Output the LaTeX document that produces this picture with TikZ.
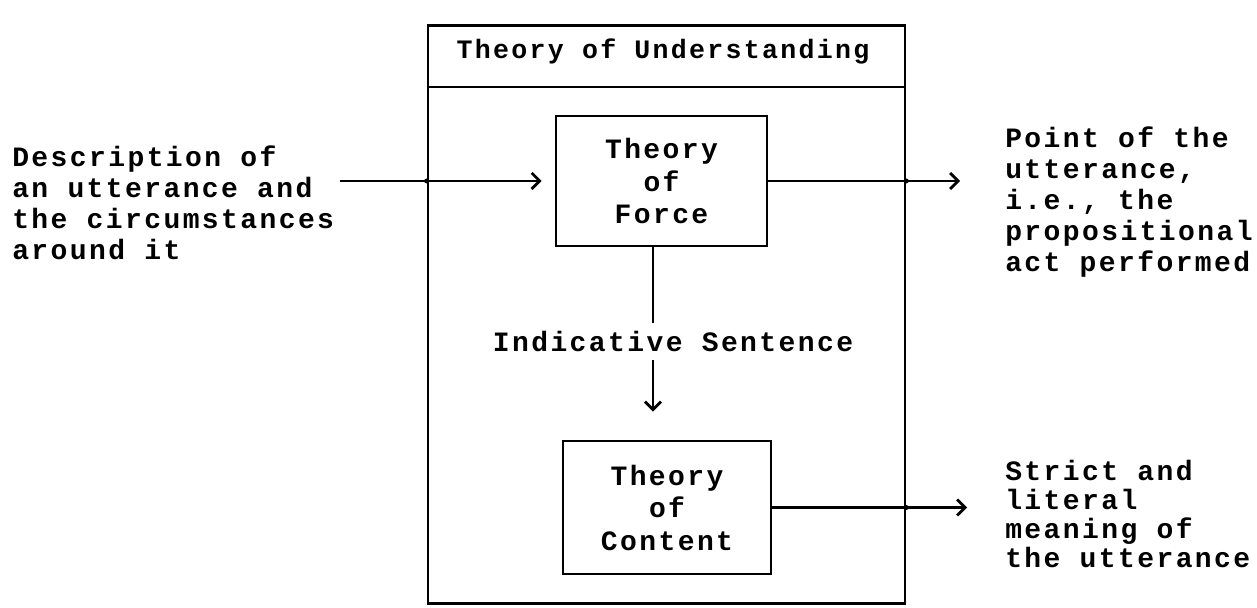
\documentclass[tikz,border=0pt]{standalone}
\usepackage{fontspec}
\setmainfont{Liberation Mono}[LetterSpace=8.6]
\usetikzlibrary{arrows.meta,positioning,calc}
\tikzset{
  theorybox/.style={draw, line width=1.3pt, align=center, inner sep=0pt, font=\bfseries\fontsize{14pt}{16.25pt}\selectfont},
  sidetext/.style={anchor=west, align=left, inner sep=0pt, font=\bfseries\fontsize{14pt}{15.5pt}\selectfont},
  chevarrow/.style={-{Straight Barb[length=4pt,width=8pt,line width=1.4pt]}, line width=1.3pt},
}

\begin{document}
\begin{tikzpicture}[x=0.5pt, y=-0.5pt, line width=1.3pt]
    \useasboundingbox (0,0) rectangle (1257,608);
    \node[draw, line width=1.3pt, inner sep=0pt, minimum width=238.5pt, minimum height=289pt] (frame) at (666.5,314.5) {};
    \coordinate (titlerule) at (0,87);
    \coordinate (stem) at (653,0);
    \draw (frame.west |- titlerule) -- (frame.east |- titlerule);
    \node[inner sep=0pt, font=\bfseries\fontsize{13.3pt}{15pt}\selectfont] (title) at (663,51) {Theory of Understanding};
    \node[theorybox, minimum width=105.5pt, minimum height=65pt] (force) at (661.5,181) {Theory\\of\\Force};
    \node[theorybox, minimum width=104pt, minimum height=66.5pt] (content) at (667,507.5) {Theory\\of\\Content};
    \node[inner sep=3.5pt, font=\bfseries\fontsize{14pt}{16pt}\selectfont] (indic) at (673,341.5) {Indicative Sentence};
    \node[sidetext] (desc) at (11,203) {Description of\\an utterance and\\the circumstances\\around it};
    \node[sidetext] (point) at (1004,202) {Point of the\\utterance,\\i.e., the\\propositional\\act performed};
    \node[sidetext, font=\bfseries\fontsize{14pt}{14.5pt}\selectfont] (strict) at (1004,514) {Strict and\\literal\\meaning of\\the utterance};
    \draw[chevarrow, shorten <=2.5pt, shorten >=6.5pt] (desc.east |- force.west) -- (force.west);
    \draw[chevarrow, shorten >=22pt] (force.east) -- (force.east -| point.west);
    \draw[chevarrow, shorten >=18.5pt] (content.east) -- (content.east -| strict.west);
    \draw (stem |- force.south) -- (stem |- indic.north);
    \draw[chevarrow, shorten >=14pt] (stem |- indic.south) -- (stem |- content.north);
    \fill (frame.west |- force.west) circle (2.5);
    \fill (frame.east |- force.east) circle (2.5);
    \fill (frame.east |- content.east) circle (2.5);
\end{tikzpicture}
\end{document}
